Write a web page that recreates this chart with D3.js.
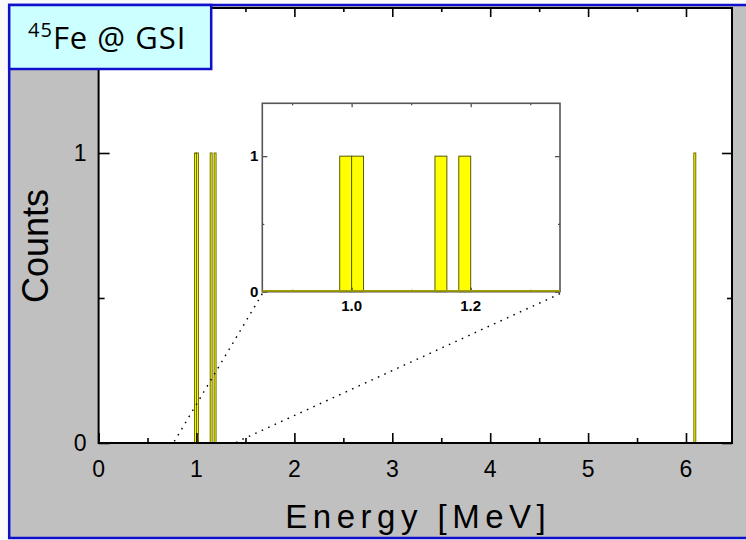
<!DOCTYPE html>
<html>
<head>
<meta charset="utf-8">
<script src="https://cdn.jsdelivr.net/npm/d3@7"></script>
<style>
  body { margin: 0; background: #fafafa; }
  svg text { font-family: "Liberation Sans", Arial, sans-serif; }
</style>
</head>
<body>
<svg id="chart" width="746" height="540"></svg>
<script>
// histogram bins (left edge, MeV), bin width and counts
const binStarts = [0.98, 1.00, 1.14, 1.18, 6.08];
const binWidth = 0.02;
const binCounts = [1, 1, 1, 1, 1];

const xMajorTicks = [0, 1, 2, 3, 4, 5, 6];
const xMinorTicks = [0.5, 1.5, 2.5, 3.5, 4.5, 5.5];
const yMajorTicks = [0, 1];
const yMinorTicks = [0.5];

const insetXMajor = [1.0, 1.2];
const insetXMinor = [0.9, 1.1, 1.3];
const insetYMajor = [0, 1];
const insetYMinor = [0.5];

const zoomFrom = [0.77, 1.41];   // where the dotted lines land on the main axis

const bins = binStarts.map((s, i) => ({x0: s, x1: s + binWidth, n: binCounts[i]}));

const svg = d3.select("#chart");

// outer frame
svg.append("rect").attr("x", 9.2).attr("y", 5).attr("width", 740).attr("height", 533)
   .attr("fill", "#c0c0c0").attr("stroke", "#1010cc").attr("stroke-width", 2.5);

const m = {left: 98.6, right: 732, top: 8, bottom: 443};
const x = d3.scaleLinear().domain([0, 6.47]).range([m.left, m.right]);
const y = d3.scaleLinear().domain([0, 1.5]).range([m.bottom, m.top]);

svg.append("rect").attr("x", m.left).attr("y", m.top)
   .attr("width", m.right - m.left).attr("height", m.bottom - m.top)
   .attr("fill", "#fff");

// main bars
svg.append("g").selectAll("rect").data(bins).join("rect")
   .attr("x", d => x(d.x0)).attr("width", d => x(d.x1) - x(d.x0))
   .attr("y", d => y(d.n)).attr("height", d => y(0) - y(d.n))
   .attr("fill", "#ffff00").attr("stroke", "#6e6e00").attr("stroke-width", 1);

function ticks(g, axis, vals, size) {
  g.call(axis.tickValues(vals).tickSize(size).tickSizeOuter(0).tickFormat(""));
  g.select(".domain").remove();
  g.selectAll("line").attr("stroke", "#000").attr("stroke-width", 1.6);
}

// inward ticks on all four sides
svg.append("g").attr("transform", `translate(0,${m.bottom})`).call(g => ticks(g, d3.axisTop(x), xMajorTicks, 10));
svg.append("g").attr("transform", `translate(0,${m.bottom})`).call(g => ticks(g, d3.axisTop(x), xMinorTicks, 5));
svg.append("g").attr("transform", `translate(0,${m.top})`).call(g => ticks(g, d3.axisBottom(x), xMajorTicks, 9));
svg.append("g").attr("transform", `translate(0,${m.top})`).call(g => ticks(g, d3.axisBottom(x), xMinorTicks, 4));
svg.append("g").attr("transform", `translate(${m.left},0)`).call(g => ticks(g, d3.axisRight(y), yMajorTicks, 11));
svg.append("g").attr("transform", `translate(${m.left},0)`).call(g => ticks(g, d3.axisRight(y), yMinorTicks, 6));
svg.append("g").attr("transform", `translate(${m.right},0)`).call(g => ticks(g, d3.axisLeft(y), yMajorTicks, 10));
svg.append("g").attr("transform", `translate(${m.right},0)`).call(g => ticks(g, d3.axisLeft(y), yMinorTicks, 5));

svg.append("rect").attr("x", m.left).attr("y", m.top)
   .attr("width", m.right - m.left).attr("height", m.bottom - m.top)
   .attr("fill", "none").attr("stroke", "#000").attr("stroke-width", 2);

// tick labels
svg.append("g").selectAll("text").data(xMajorTicks).join("text")
   .attr("x", d => x(d)).attr("y", m.bottom + 34)
   .attr("text-anchor", "middle").attr("font-size", 23).text(d => d);
svg.append("g").selectAll("text").data(yMajorTicks).join("text")
   .attr("x", m.left - 12).attr("y", d => y(d) + 8)
   .attr("text-anchor", "end").attr("font-size", 23).text(d => d);

// axis titles
svg.append("text").attr("x", (m.left + m.right) / 2 + 3).attr("y", 528).attr("text-anchor", "middle")
   .attr("font-size", 33).attr("letter-spacing", 5.5).text("Energy [MeV]");
svg.append("text").attr("transform", "translate(48,246) rotate(-90)")
   .attr("text-anchor", "middle").attr("font-size", 36).text("Counts");

// inset
const im = {left: 262.3, right: 560, top: 103.3, bottom: 291.7};
const xi = d3.scaleLinear().domain([0.85, 1.35]).range([im.left, im.right]);
const yi = d3.scaleLinear().domain([0, 1.39]).range([im.bottom, im.top]);

// dotted zoom lines
svg.append("g").selectAll("line").data([0, 1]).join("line")
   .attr("x1", i => xi(xi.domain()[i])).attr("y1", yi(0) + 2)
   .attr("x2", i => x(zoomFrom[i])).attr("y2", y(0) - 1)
   .attr("stroke", "#000").attr("stroke-width", 1.4).attr("stroke-dasharray", "1.6,5.5");

svg.append("rect").attr("x", im.left).attr("y", im.top)
   .attr("width", im.right - im.left).attr("height", im.bottom - im.top)
   .attr("fill", "#fff");

const inBins = bins.filter(d => d.x1 <= xi.domain()[1]);
svg.append("g").selectAll("rect").data(inBins).join("rect")
   .attr("x", d => xi(d.x0)).attr("width", d => xi(d.x1) - xi(d.x0))
   .attr("y", d => yi(d.n)).attr("height", d => yi(0) - yi(d.n))
   .attr("fill", "#ffff00").attr("stroke", "#5a5a00").attr("stroke-width", 1);

function iticks(g, axis, vals, size) {
  g.call(axis.tickValues(vals).tickSize(size).tickSizeOuter(0).tickFormat(""));
  g.select(".domain").remove();
  g.selectAll("line").attr("stroke", "#444").attr("stroke-width", 1.2);
}
svg.append("g").attr("transform", `translate(0,${im.bottom})`).call(g => iticks(g, d3.axisTop(xi), insetXMajor, 4));
svg.append("g").attr("transform", `translate(0,${im.bottom})`).call(g => iticks(g, d3.axisTop(xi), insetXMinor, 2));
svg.append("g").attr("transform", `translate(0,${im.top})`).call(g => iticks(g, d3.axisBottom(xi), insetXMajor, 4));
svg.append("g").attr("transform", `translate(0,${im.top})`).call(g => iticks(g, d3.axisBottom(xi), insetXMinor, 2));
svg.append("g").attr("transform", `translate(${im.left},0)`).call(g => iticks(g, d3.axisRight(yi), insetYMajor, 5));
svg.append("g").attr("transform", `translate(${im.left},0)`).call(g => iticks(g, d3.axisRight(yi), insetYMinor, 2));
svg.append("g").attr("transform", `translate(${im.right},0)`).call(g => iticks(g, d3.axisLeft(yi), insetYMajor, 5));
svg.append("g").attr("transform", `translate(${im.right},0)`).call(g => iticks(g, d3.axisLeft(yi), insetYMinor, 2));

svg.append("rect").attr("x", im.left).attr("y", im.top)
   .attr("width", im.right - im.left).attr("height", im.bottom - im.top)
   .attr("fill", "none").attr("stroke", "#555").attr("stroke-width", 1.6);
// histogram baseline drawn at zero
svg.append("line").attr("x1", xi(0.85)).attr("x2", xi(1.35))
   .attr("y1", yi(0) - 0.8).attr("y2", yi(0) - 0.8)
   .attr("stroke", "#a0a000").attr("stroke-width", 1.6);

svg.append("g").selectAll("text").data(insetXMajor).join("text")
   .attr("x", d => xi(d)).attr("y", im.bottom + 19)
   .attr("text-anchor", "middle").attr("font-size", 15).attr("font-weight", "bold")
   .text(d3.format(".1f"));
svg.append("g").selectAll("text").data(insetYMajor).join("text")
   .attr("x", im.left - 4).attr("y", d => yi(d) + 5)
   .attr("text-anchor", "end").attr("font-size", 15).attr("font-weight", "bold").text(d => d);

// label box
svg.append("rect").attr("x", 9.2).attr("y", 5).attr("width", 202).attr("height", 64)
   .attr("fill", "#ccffff").attr("stroke", "#1010cc").attr("stroke-width", 2.5);
const lab = svg.append("text").attr("x", 28).attr("y", 49)
   .style("font-family", "'Open Sans', Lato, sans-serif").attr("font-size", 31)
   .attr("letter-spacing", 1);
lab.append("tspan").attr("font-size", 20).attr("dy", -12).text("45");
lab.append("tspan").attr("dy", 12).text("Fe @ GSI");
</script>
</body>
</html>
